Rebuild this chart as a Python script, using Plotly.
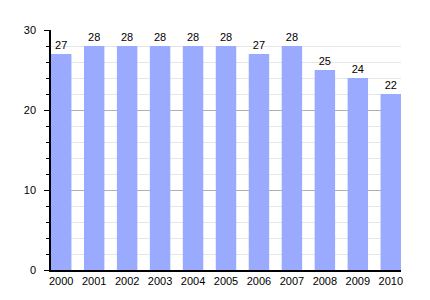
import plotly.graph_objects as go

years = ["2000", "2001", "2002", "2003", "2004", "2005", "2006", "2007", "2008", "2009", "2010"]
values = [27, 28, 28, 28, 28, 28, 27, 28, 25, 24, 22]
y_ticks = [0, 10, 20, 30]

fig = go.Figure(go.Bar(
    x=years, y=values,
    marker=dict(color="#99AAFF", line=dict(width=0)),
    text=[str(v) for v in values], textposition="outside",
    textfont=dict(family="Liberation Sans, Arial", size=11, color="#000"),
    cliponaxis=False, width=0.62,
))
fig.update_layout(
    width=430, height=300,
    margin=dict(l=51, r=29, t=30, b=30),
    plot_bgcolor="white", paper_bgcolor="white",
    font=dict(family="Liberation Sans, Arial", size=11, color="#000"),
    showlegend=False,
)
fig.update_xaxes(
    type="category", range=[-0.31, 10.31], showline=True, linecolor="#000", linewidth=1.5,
    ticks="", showgrid=False, tickfont=dict(size=11),
)
fig.update_yaxes(
    range=[0, 30], tickvals=y_ticks, showline=True, linecolor="#000", linewidth=1.5,
    ticks="outside", ticklen=5, tickcolor="#000", ticklabelstandoff=6,
    showgrid=True, gridcolor="#b0b0b0", gridwidth=1, zeroline=False,
    minor=dict(dtick=2, showgrid=True, gridcolor="#e6e6e6", ticks="outside", ticklen=3, tickcolor="#000"),
    tickfont=dict(size=11),
)
fig.write_html("out.html")
